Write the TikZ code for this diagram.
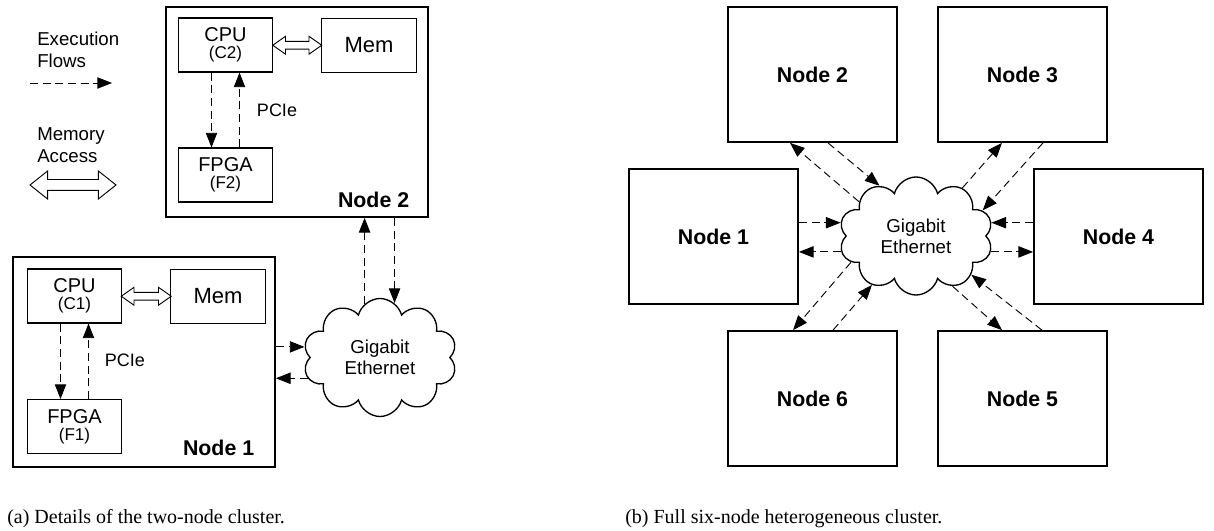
\documentclass[tikz,border=0pt]{standalone}
\usepackage{fontspec}
\setmainfont{Liberation Serif}
\newfontfamily\diagfont{Liberation Sans}
\usetikzlibrary{arrows.meta,shapes.arrows,shapes.symbols,calc}

\begin{document}
\begin{tikzpicture}[x=0.75pt,y=-0.75pt,
  every node/.style={font=\diagfont},
  box/.style={draw,line width=0.8pt,minimum width=71pt,minimum height=40.5pt,inner sep=0pt,align=center,font=\diagfont\fontsize{15}{12.5}\selectfont},
  host/.style={draw,line width=1.3pt,minimum width=196.5pt,minimum height=157.5pt,inner sep=0pt},
  peer/.style={draw,line width=1.3pt,minimum width=126.75pt,minimum height=101.25pt,inner sep=0pt,font=\diagfont\bfseries\fontsize{16}{15}\selectfont},
  net/.style={draw,cloud,cloud puffs=10,cloud puff arc=150,aspect=1.3,shape border rotate=18,line width=1pt,minimum width=115.5pt,minimum height=88.5pt,inner sep=0pt,align=center,font=\diagfont\fontsize{14}{16}\selectfont},
  flow/.style={dash pattern=on 6pt off 3.5pt,line width=0.7pt,-{Triangle[length=11pt,width=8.5pt]}},
  memacc/.style={draw,double arrow,line width=0.7pt,inner xsep=0pt,inner ysep=2.6pt,double arrow head extend=3.75pt,double arrow tip angle=70},
  lbl/.style={font=\diagfont\bfseries\fontsize{16}{15}\selectfont},
  legend/.style={anchor=north west,align=left,inner sep=0pt,font=\diagfont\fontsize{14}{16.5}\selectfont}
]
\useasboundingbox (0,0) rectangle (1214,531);

% legend
\node[legend] (lgflow) at (37,32) {Execution\\Flows};
\coordinate (lgf0) at (30,83);
\coordinate (lgf1) at (112,83);
\draw[flow] (lgf0) -- (lgf1);
\node[legend] (lgmem) at (37,127) {Memory\\Access};
\node[memacc,minimum height=64.5pt,inner ysep=3.75pt,double arrow head extend=6.4pt,double arrow tip angle=77] (lgacc) at (73,185) {};

% (a) node 2
\node[host] (h2) at (297,112) {};
\node[box] (cpu2) at (225.5,45) {CPU\\{\fontsize{12.8}{12.5}\selectfont(C2)}};
\node[box,font=\diagfont\fontsize{16.5}{14}\selectfont] (mem2) at (369,45.5) {Mem};
\node[box] (fpga2) at (225.5,175) {FPGA\\{\fontsize{12.8}{12.5}\selectfont(F2)}};
\node[lbl,anchor=base east] at ([shift={(-15,-10)}]h2.south east) {Node 2};
\node[memacc,minimum height=36.75pt] (acc2) at ($(cpu2.east)!0.5!(mem2.west)$) {};
\draw[flow] ([xshift=-10.5pt]cpu2.south) -- ([xshift=-10.5pt]fpga2.north);
\draw[flow] ([xshift=10.5pt]fpga2.north) -- ([xshift=10.5pt]cpu2.south);
\node[font=\diagfont\fontsize{13.5}{13}\selectfont] (pcie2) at (277,110) {PCIe};

% (a) node 1
\node[host] (h1) at (144,362) {};
\node[box] (cpu1) at (74.5,296) {CPU\\{\fontsize{12.8}{12.5}\selectfont(C1)}};
\node[box,font=\diagfont\fontsize{16.5}{14}\selectfont] (mem1) at (218,296.5) {Mem};
\node[box] (fpga1) at (74.5,426.5) {FPGA\\{\fontsize{12.8}{12.5}\selectfont(F1)}};
\node[lbl,anchor=base east] at ([shift={(-17,-12)}]h1.south east) {Node 1};
\node[memacc,minimum height=37.5pt] (acc1) at ($(cpu1.east)!0.5!(mem1.west)$) {};
\draw[flow] ([xshift=-10.5pt]cpu1.south) -- ([xshift=-10.5pt]fpga1.north);
\draw[flow] ([xshift=10.5pt]fpga1.north) -- ([xshift=10.5pt]cpu1.south);
\node[font=\diagfont\fontsize{13.5}{13}\selectfont] (pcie1) at (125,360) {PCIe};

% (a) network
\node[net] (gbe1) at (380,357.5) {Gigabit\\Ethernet};
\draw[flow] (gbe1.106) -- (gbe1.106 |- h2.south);
\draw[flow] (h2.south -| gbe1.75) -- (gbe1.75);
\draw[flow] (h1.east |- gbe1.172) -- (gbe1.172);
\draw[flow] (gbe1.196) -- (h1.east |- gbe1.196);

% (b) six nodes
\node[peer] (p1) at (713.5,236.5) {Node 1};
\node[peer] (p2) at (812.5,74.5) {Node 2};
\node[peer] (p3) at (1022.5,74.5) {Node 3};
\node[peer] (p4) at (1118.5,236.5) {Node 4};
\node[peer] (p5) at (1022.5,398.5) {Node 5};
\node[peer] (p6) at (812.5,398.5) {Node 6};
\node[net] (gbe) at (916,236) {Gigabit\\Ethernet};

\draw[flow] ([xshift=11.6pt]p2.south) -- (gbe.126);
\draw[flow] (gbe.149) -- ([xshift=-16.9pt]p2.south);
\draw[flow] (gbe.46) -- ([xshift=-15.4pt]p3.south);
\draw[flow] ([xshift=15.4pt]p3.south) -- (gbe.21);
\draw[flow] (p1.east |- gbe.170) -- (gbe.170);
\draw[flow] (gbe.192) -- (p1.east |- gbe.192);
\draw[flow] (p4.west |- gbe.10) -- (gbe.10);
\draw[flow] (gbe.348) -- (p4.west |- gbe.348);
\draw[flow] (gbe.202) -- ([xshift=-14.6pt]p6.north);
\draw[flow] ([xshift=15.4pt]p6.north) -- (gbe.228);
\draw[flow] (gbe.306) -- ([xshift=-15.4pt]p5.north);
\draw[flow] ([xshift=14.6pt]p5.north) -- (gbe.325);

% captions
\node[anchor=base west,inner sep=0pt,font=\rmfamily\fontsize{15}{15}\selectfont] (capa) at (7,523) {(a) Details of the two-node cluster.};
\node[anchor=base west,inner sep=0pt,font=\rmfamily\fontsize{15}{15}\selectfont] (capb) at (625,523) {(b) Full six-node heterogeneous cluster.};
\end{tikzpicture}
\end{document}
